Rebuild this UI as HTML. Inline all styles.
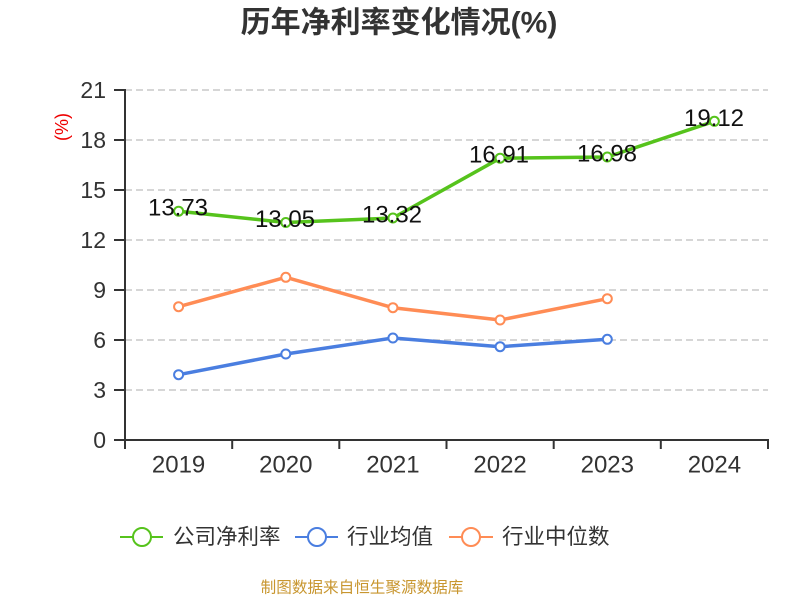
<!DOCTYPE html>
<html>
<head>
<meta charset="utf-8">
<style>
html,body{margin:0;padding:0;background:#fff;}
svg{display:block;}
text{font-family:"Liberation Sans","Noto Sans CJK SC",sans-serif;}
</style>
</head>
<body>
<svg width="800" height="600" viewBox="0 0 800 600" xmlns="http://www.w3.org/2000/svg">
<rect width="800" height="600" fill="#fff"/>
<text x="399" y="23" text-anchor="middle" dominant-baseline="central" font-size="30" font-weight="bold" fill="#333">历年净利率变化情况(%)</text>

<!-- grid -->
<g stroke="#c8c8c8" stroke-width="1.5" stroke-dasharray="7,4">
<line x1="125" y1="90" x2="768" y2="90"/>
<line x1="125" y1="140" x2="768" y2="140"/>
<line x1="125" y1="190" x2="768" y2="190"/>
<line x1="125" y1="240" x2="768" y2="240"/>
<line x1="125" y1="290" x2="768" y2="290"/>
<line x1="125" y1="340" x2="768" y2="340"/>
<line x1="125" y1="390" x2="768" y2="390"/>
</g>

<!-- axes -->
<g stroke="#333" stroke-width="2">
<line x1="125" y1="89" x2="125" y2="441"/>
<line x1="124" y1="440" x2="769" y2="440"/>
<line x1="114" y1="90" x2="125" y2="90"/>
<line x1="114" y1="140" x2="125" y2="140"/>
<line x1="114" y1="190" x2="125" y2="190"/>
<line x1="114" y1="240" x2="125" y2="240"/>
<line x1="114" y1="290" x2="125" y2="290"/>
<line x1="114" y1="340" x2="125" y2="340"/>
<line x1="114" y1="390" x2="125" y2="390"/>
<line x1="114" y1="440" x2="125" y2="440"/>
<line x1="125" y1="440" x2="125" y2="449"/>
<line x1="232.2" y1="440" x2="232.2" y2="449"/>
<line x1="339.3" y1="440" x2="339.3" y2="449"/>
<line x1="446.5" y1="440" x2="446.5" y2="449"/>
<line x1="553.7" y1="440" x2="553.7" y2="449"/>
<line x1="660.8" y1="440" x2="660.8" y2="449"/>
<line x1="768" y1="440" x2="768" y2="449"/>
</g>

<g font-size="23" fill="#333" text-anchor="end" dominant-baseline="central">
<text x="106" y="90">21</text>
<text x="106" y="140">18</text>
<text x="106" y="190">15</text>
<text x="106" y="240">12</text>
<text x="106" y="290">9</text>
<text x="106" y="340">6</text>
<text x="106" y="390">3</text>
<text x="106" y="440">0</text>
</g>
<text transform="translate(62,127) rotate(-90)" text-anchor="middle" dominant-baseline="central" font-size="18" fill="#e00">(%)</text>

<g font-size="24" fill="#333" text-anchor="middle" dominant-baseline="central">
<text x="178.6" y="465">2019</text>
<text x="285.8" y="465">2020</text>
<text x="392.9" y="465">2021</text>
<text x="500.1" y="465">2022</text>
<text x="607.3" y="465">2023</text>
<text x="714.4" y="465">2024</text>
</g>

<!-- median -->
<polyline fill="none" stroke="#ff8c55" stroke-width="3.5" stroke-linejoin="round" points="178.6,306.7 285.8,277.3 392.9,307.7 500.1,320 607.3,298.7"/>
<g fill="#fff" stroke="#ff8c55" stroke-width="2">
<circle cx="178.6" cy="306.7" r="4.5"/><circle cx="285.8" cy="277.3" r="4.5"/><circle cx="392.9" cy="307.7" r="4.5"/><circle cx="500.1" cy="320" r="4.5"/><circle cx="607.3" cy="298.7" r="4.5"/>
</g>

<!-- avg -->
<polyline fill="none" stroke="#4a7ee0" stroke-width="3.5" stroke-linejoin="round" points="178.6,374.7 285.8,354 392.9,338 500.1,346.7 607.3,339.3"/>
<g fill="#fff" stroke="#4a7ee0" stroke-width="2">
<circle cx="178.6" cy="374.7" r="4.5"/><circle cx="285.8" cy="354" r="4.5"/><circle cx="392.9" cy="338" r="4.5"/><circle cx="500.1" cy="346.7" r="4.5"/><circle cx="607.3" cy="339.3" r="4.5"/>
</g>

<!-- company -->
<polyline fill="none" stroke="#56c31c" stroke-width="3.5" stroke-linejoin="round" points="178.6,211.2 285.8,222.5 392.9,218 500.1,158.2 607.3,157 714.4,121.3"/>
<g fill="#fff" stroke="#56c31c" stroke-width="2">
<circle cx="178.6" cy="211.2" r="4.5"/><circle cx="285.8" cy="222.5" r="4.5"/><circle cx="392.9" cy="218" r="4.5"/><circle cx="500.1" cy="158.2" r="4.5"/><circle cx="607.3" cy="157" r="4.5"/><circle cx="714.4" cy="121.3" r="4.5"/>
</g>
<g font-size="24" fill="#111" text-anchor="middle" dominant-baseline="central">
<text x="178" y="208">13.73</text>
<text x="285" y="219.5">13.05</text>
<text x="392" y="215">13.32</text>
<text x="499" y="155">16.91</text>
<text x="607" y="154">16.98</text>
<text x="714" y="118.5">19.12</text>
</g>

<!-- legend -->
<line x1="120" y1="537" x2="163" y2="537" stroke="#56c31c" stroke-width="2"/>
<circle cx="142" cy="537" r="9" fill="#fff" stroke="#56c31c" stroke-width="2"/>
<text x="173" y="537" font-size="21.5" fill="#333" dominant-baseline="central">公司净利率</text>
<line x1="295" y1="537" x2="338" y2="537" stroke="#4a7ee0" stroke-width="2"/>
<circle cx="317" cy="537" r="9" fill="#fff" stroke="#4a7ee0" stroke-width="2"/>
<text x="347" y="537" font-size="21.5" fill="#333" dominant-baseline="central">行业均值</text>
<line x1="449" y1="537" x2="493" y2="537" stroke="#ff8c55" stroke-width="2"/>
<circle cx="471" cy="537" r="9" fill="#fff" stroke="#ff8c55" stroke-width="2"/>
<text x="502" y="537" font-size="21.5" fill="#333" dominant-baseline="central">行业中位数</text>

<text x="362" y="588" text-anchor="middle" dominant-baseline="central" font-size="15.6" fill="#c8962f">制图数据来自恒生聚源数据库</text>
</svg>
</body>
</html>
